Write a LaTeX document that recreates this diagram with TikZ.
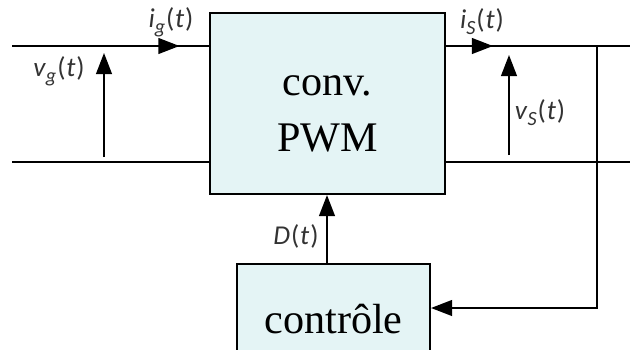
\documentclass[tikz,border=0pt]{standalone}
\usepackage{fontspec}
\setmainfont{Liberation Serif}
\newfontfamily\labfont{Carlito}
\usepackage{tikz}
\usetikzlibrary{arrows.meta}
\usetikzlibrary{decorations.markings}
\usepackage{xcolor}

\definecolor{boxfill}{HTML}{E4F4F5}
% signal label: letter, lowered subscript, (t)
\newcommand{\sig}[2]{{\labfont\fontsize{15.5}{17}\selectfont\textit{#1}\raisebox{-0.45ex}{\fontsize{11.5}{13}\selectfont\textit{#2}}\kern0.5pt(\kern0.5pt\textit{t}\kern0.5pt)}}

\begin{document}
\begin{tikzpicture}[x=0.02cm,y=-0.02cm,line width=1pt,
  block/.style={draw,fill=boxfill,line width=1.2pt,font=\fontsize{24}{28}\selectfont,align=center},
  lab/.style={text=black!80,inner sep=0pt}]
\useasboundingbox (0,0) rectangle (630,349);

\node[block,minimum width=4.7cm,minimum height=3.62cm] (conv) at (327.5,103.5)
  {\raisebox{-0.42cm}[0pt][0pt]{\begin{tabular}{@{}c@{}}conv.\\[4pt]PWM\end{tabular}}};
\node[block,minimum width=3.86cm,minimum height=2.2cm,anchor=north] (ctrl) at (333.5,263) {contr\^ole};

% line ends
\coordinate (gtop) at (12,46);
\coordinate (gbot) at (12,162);
\coordinate (stop) at (630,46);
\coordinate (sbot) at (630,162);
\coordinate (vgb) at (104,157);
\coordinate (vgt) at (104,53);
\coordinate (vsb) at (509,155);
\coordinate (vst) at (509,55);
\coordinate (fb) at (597,46);
\coordinate (fc) at (597,308);

\draw (gbot) -- (gbot -| conv.west);
\draw (conv.east |- sbot) -- (sbot);

% currents
\begin{scope}[decoration={markings,
    mark=at position 0.85 with {\arrow{Triangle[length=12pt,width=9pt]}}}]
    \draw[postaction={decorate}] (gtop) -- (gtop -| conv.west);
\end{scope}
\begin{scope}[decoration={markings,
    mark=at position 0.255 with {\arrow{Triangle[length=12pt,width=9pt]}}}]
    \draw[postaction={decorate}] (conv.east |- stop) -- (stop);
\end{scope}

% voltages
\draw[-{Triangle[length=12pt,width=9pt]}] (vgb) -- (vgt);
\draw[-{Triangle[length=12pt,width=9pt]}] (vsb) -- (vst);

% duty cycle and feedback
\draw[-{Triangle[length=12pt,width=9pt]}] (ctrl.north -| 327,0) -- (conv.south -| 327,0);
\draw[-{Triangle[length=12pt,width=9pt]}] (fb) -- (fc) -- (fc -| ctrl.east);

\node[lab] (ig) at (171,22) {\sig{i}{g}};
\node[lab] (vg) at (59,71) {\sig{v}{g}};
\node[lab] (is) at (482,22) {\sig{i}{S}};
\node[lab] (vs) at (540,113) {\sig{v}{S}};
\node[lab] (dt) at (296,236) {{\labfont\fontsize{15.5}{17}\selectfont\textit{D}\kern0.5pt(\kern0.5pt\textit{t}\kern0.5pt)}};
\end{tikzpicture}
\end{document}
